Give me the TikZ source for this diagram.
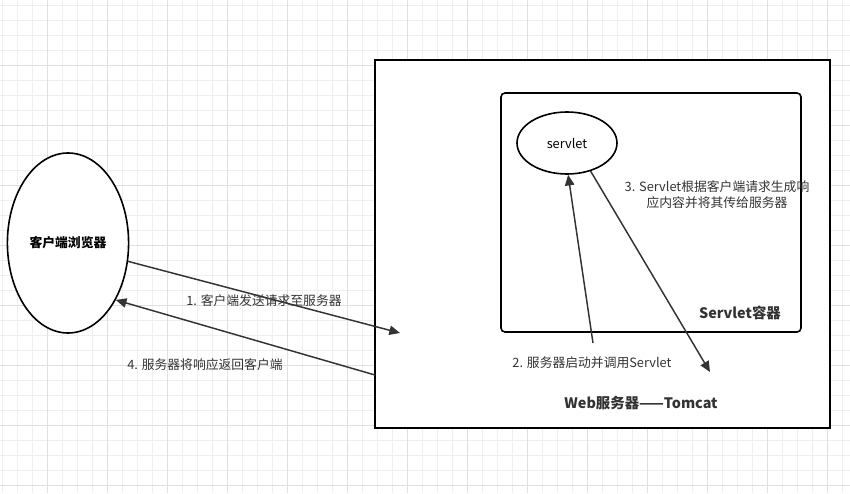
\documentclass[tikz,border=0pt]{standalone}
\usepackage{fontspec}
\setmainfont{Noto Sans CJK SC}
\usetikzlibrary{shapes.geometric,arrows.meta}
\definecolor{minorgrid}{HTML}{EFEFEF}
\definecolor{majorgrid}{HTML}{E0E0E0}
\definecolor{txtgray}{HTML}{333333}
\tikzset{
    box/.style={draw, line width=1.2pt},
    flow/.style={-{Triangle[length=8pt,width=7pt]}, line width=1.1pt, black!80},
    lbl/.style={font=\fontsize{9.6}{12}\selectfont, text=txtgray, align=center},
    title/.style={font=\fontsize{10.8}{12}\selectfont\bfseries, text=txtgray}
}
\begin{document}
\begin{tikzpicture}[x=0.75pt, y=-0.75pt]
    % Background and grid
    \useasboundingbox (0,0) rectangle (850,493);
    \fill [white] (0,0) rectangle (850,493);
    \foreach \i in {2,17,...,850} \draw [minorgrid, line width=0.6pt] (\i,0) -- (\i,493);
    \foreach \j in {5,20,...,493} \draw [minorgrid, line width=0.6pt] (0,\j) -- (850,\j);
    \foreach \i in {47,107,...,850} \draw [majorgrid, line width=0.6pt] (\i,0) -- (\i,493);
    \foreach \j in {65,125,...,493} \draw [majorgrid, line width=0.6pt] (0,\j) -- (850,\j);

    % Boxes
    \draw [box, fill=white] (375,60) rectangle (830,428);
    \draw [box, rounded corners=3pt] (501,93) rectangle (801,332);
    \node [box, ellipse, fill=white, minimum width=120*0.75pt, minimum height=180*0.75pt,
           font=\fontsize{9.6}{11}\selectfont\bfseries] (client) at (68,243) {客户端浏览器};
    \node [box, ellipse, minimum width=100*0.75pt, minimum height=62*0.75pt,
           font=\fontsize{9.6}{11}\selectfont] (servlet) at (567,143) {servlet};
    \coordinate (req) at (400,333);
    \coordinate (resp) at (375,375);
    \coordinate (start) at (593,343);
    \coordinate (ret) at (710,372);

    % Connectors
    \draw [flow] (client.-17) -- (req);
    \draw [flow] (resp) -- (client.-50);
    \draw [flow] (start) -- (servlet.-88);
    \draw [flow] (servlet.-50) -- (ret);

    % Labels
    \node [lbl] (l1) at (264,301) {1. 客户端发送请求至服务器};
    \node [lbl] (l4) at (205,365) {4. 服务器将响应返回客户端};
    \node [lbl] (l2) at (592,363) {2. 服务器启动并调用Servlet};
    \node [lbl] (l3) at (717,195) {3. Servlet根据客户端请求生成响\\应内容并将其传给服务器};
    \node [title] (ltc) at (740,313) {Servlet容器};
    \node [title] (lws) at (641,403) {Web服务器——Tomcat};
\end{tikzpicture}
\end{document}
